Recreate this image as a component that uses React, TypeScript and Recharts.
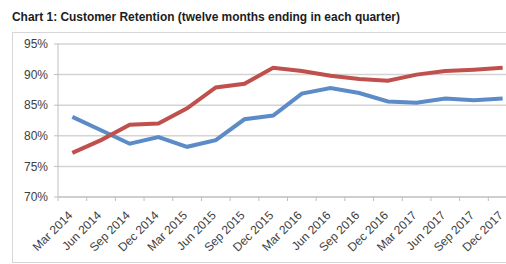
import React from 'react';
import { LineChart, Line, XAxis, YAxis, CartesianGrid } from 'recharts';

const QUARTERS = [
    'Mar 2014', 'Jun 2014', 'Sep 2014', 'Dec 2014',
    'Mar 2015', 'Jun 2015', 'Sep 2015', 'Dec 2015',
    'Mar 2016', 'Jun 2016', 'Sep 2016', 'Dec 2016',
    'Mar 2017', 'Jun 2017', 'Sep 2017', 'Dec 2017',
];

// retention rates, %
const RED_SERIES = [77.2, 79.3, 81.8, 82.0, 84.5, 87.9, 88.5, 91.1, 90.6, 89.8, 89.3, 89.0, 90.0, 90.6, 90.8, 91.1];
const BLUE_SERIES = [83.1, 80.9, 78.7, 79.8, 78.2, 79.3, 82.7, 83.3, 86.9, 87.8, 87.0, 85.6, 85.4, 86.1, 85.8, 86.1];

const Y_TICKS = [70, 75, 80, 85, 90, 95];

const TITLE = 'Chart 1: Customer Retention (twelve months ending in each quarter)';

const RED = '#c0504d';
const BLUE = '#5b8cc8';
const GRID = '#d4d4d4';
const LABEL = '#404040';

const CHART_W = 540;
const CHART_H = 264;
const PLOT_LEFT = 58;
const PLOT_RIGHT = 517;
const BAND = (PLOT_RIGHT - PLOT_LEFT) / QUARTERS.length;

const data = QUARTERS.map((q, i) => ({ quarter: q, red: RED_SERIES[i], blue: BLUE_SERIES[i] }));

function QuarterTick({ x, y, payload }: { x?: number; y?: number; payload?: { value: string } }) {
    const tx = x ?? 0;
    const ty = y ?? 0;
    return (
        <g>
            <line x1={tx - BAND / 2} x2={tx - BAND / 2} y1={ty} y2={ty + 4} stroke="#bfbfbf" />
            <text
                transform={`translate(${tx + 1},${ty + 19}) rotate(-45)`}
                textAnchor="end"
                fontSize={12}
                fill={LABEL}
            >
                {payload?.value}
            </text>
        </g>
    );
}

export default function App() {
    return (
        <div
            style={{
                position: 'absolute',
                left: 0,
                top: 0,
                width: 506,
                height: 264,
                overflow: 'hidden',
                background: '#fff',
                fontFamily: '"Liberation Sans", Arial, sans-serif',
            }}
        >
            <div
                style={{
                    position: 'absolute',
                    left: 12,
                    top: 32,
                    width: 560,
                    height: 229,
                    border: '1px solid #d6d6d6',
                }}
            />
            <svg width={506} height={30} style={{ position: 'absolute', left: 0, top: 0 }}>
                <text
                    x={12}
                    y={21}
                    fontSize={12.5}
                    fontWeight="bold"
                    fill="#1c1c1c"
                    textLength={388}
                    lengthAdjust="spacingAndGlyphs"
                >
                    {TITLE}
                </text>
            </svg>
            <div style={{ position: 'absolute', left: 0, top: 0 }}>
                <LineChart
                    width={CHART_W}
                    height={CHART_H}
                    data={data}
                    margin={{ top: 44, right: CHART_W - PLOT_RIGHT, left: 0, bottom: 0 }}
                >
                    <CartesianGrid vertical={false} stroke={GRID} strokeWidth={1.5} />
                    <XAxis
                        dataKey="quarter"
                        interval={0}
                        height={67}
                        padding={{ left: BAND / 2, right: BAND / 2 }}
                        tickLine={false}
                        tickSize={0}
                        tickMargin={0}
                        axisLine={{ stroke: '#bfbfbf' }}
                        tick={<QuarterTick />}
                    />
                    <YAxis
                        width={PLOT_LEFT}
                        domain={[70, 95]}
                        ticks={Y_TICKS}
                        tickFormatter={(v) => `${v}%`}
                        tickSize={4}
                        tickMargin={6}
                        tickLine={{ stroke: '#bfbfbf' }}
                        axisLine={{ stroke: '#bfbfbf' }}
                        tick={{ fontSize: 12, fill: LABEL }}
                    />
                    <Line type="linear" dataKey="blue" stroke={BLUE} strokeWidth={4} dot={false} isAnimationActive={false} />
                    <Line type="linear" dataKey="red" stroke={RED} strokeWidth={4} dot={false} isAnimationActive={false} />
                </LineChart>
            </div>
        </div>
    );
}
